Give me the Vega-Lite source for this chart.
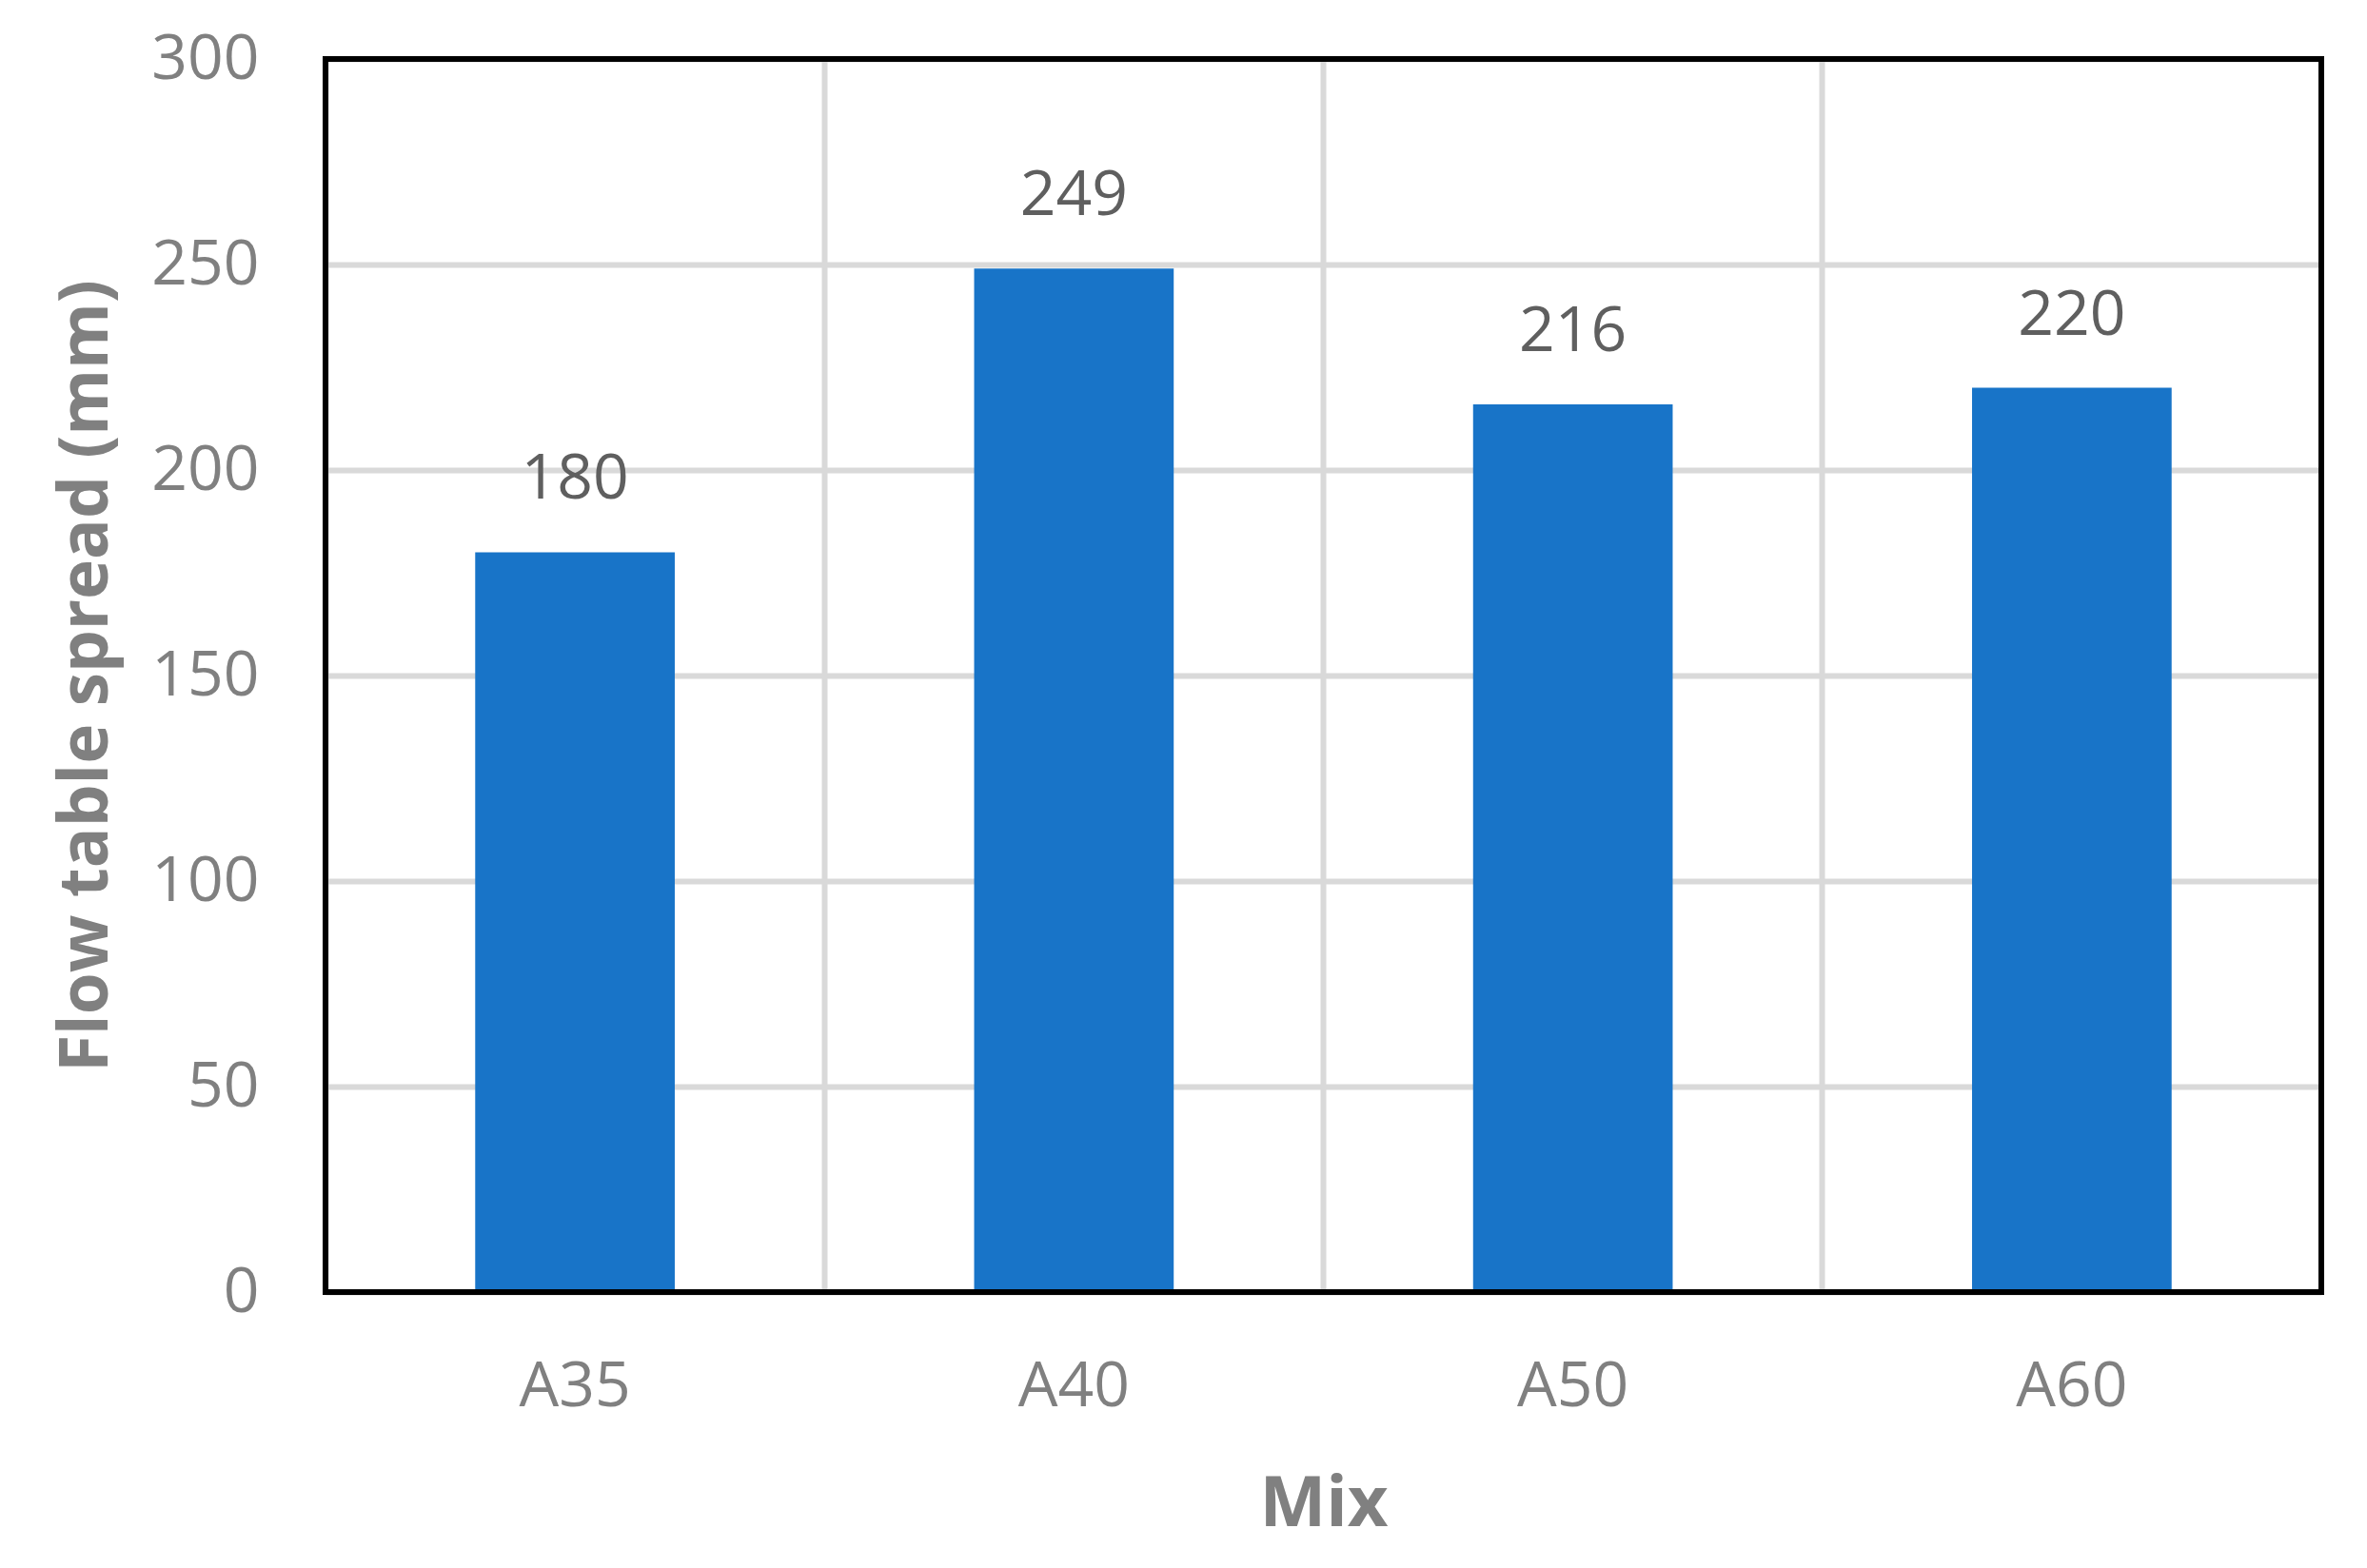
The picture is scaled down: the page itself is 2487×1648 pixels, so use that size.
{
  "$schema": "https://vega.github.io/schema/vega-lite/v6.json",
  "autosize": {"type": "none"},
  "width": 2097,
  "height": 1296,
  "padding": {"left": 342, "top": 62, "right": 48, "bottom": 290},
  "background": "white",
  "config": {
    "view": {"stroke": null},
    "font": "Open Sans"
  },
  "data": {
    "values": [
      {"Mix": "A35", "Spread": 180},
      {"Mix": "A40", "Spread": 249},
      {"Mix": "A50", "Spread": 216},
      {"Mix": "A60", "Spread": 220}
    ]
  },
  "encoding": {
    "x": {
      "field": "Mix",
      "type": "nominal",
      "sort": null,
      "scale": {"paddingInner": 0, "paddingOuter": 0},
      "axis": {
        "title": "Mix",
        "labelAngle": 0,
        "labelFontSize": 66,
        "labelColor": "#808080",
        "labelPadding": 67,
        "labelBaseline": "top",
        "ticks": false,
        "tickSize": 0,
        "domain": false,
        "grid": true,
        "bandPosition": 0,
        "gridColor": "#d9d9d9",
        "gridWidth": 6,
        "titleFontSize": 74,
        "titleFontWeight": "bold",
        "titleColor": "#808080",
        "titleBaseline": "alphabetic",
        "titleY": 245
      }
    },
    "y": {
      "field": "Spread",
      "type": "quantitative",
      "scale": {"domain": [0, 300], "nice": false},
      "axis": {
        "title": "Flow table spread (mm)",
        "values": [0, 50, 100, 150, 200, 250, 300],
        "labelFontSize": 66,
        "labelColor": "#808080",
        "labelPadding": 70,
        "ticks": false,
        "tickSize": 0,
        "domain": false,
        "grid": true,
        "gridColor": "#d9d9d9",
        "gridWidth": 6,
        "titleFontSize": 71,
        "titleFontWeight": "bold",
        "titleColor": "#808080",
        "titleBaseline": "alphabetic",
        "titleX": -230,
        "titleY": 648
      }
    }
  },
  "layer": [
    {
      "mark": {"type": "bar", "color": "#1874C8", "width": {"band": 0.4}}
    },
    {
      "mark": {
        "type": "text",
        "fontSize": 66,
        "color": "#5f5f5f",
        "baseline": "alphabetic",
        "dy": -56
      },
      "encoding": {"text": {"field": "Spread", "type": "quantitative"}}
    },
    {
      "data": {"values": [{"frame": 1}]},
      "mark": {"type": "rect", "fill": null, "stroke": "black", "strokeWidth": 6, "strokeJoin": "miter"},
      "encoding": {
        "x": {"value": 0},
        "x2": {"value": "width"},
        "y": {"value": 0},
        "y2": {"value": "height"}
      }
    }
  ]
}
